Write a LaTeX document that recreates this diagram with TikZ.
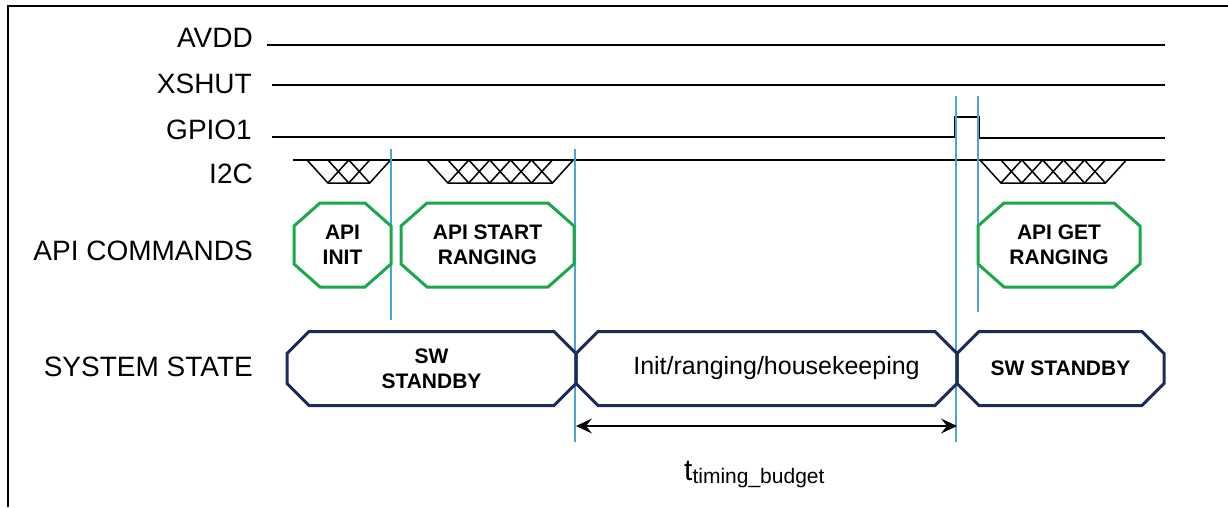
\documentclass[tikz,border=0pt]{standalone}
\usepackage{fontspec}
\setmainfont{Liberation Sans}
\usepackage{xcolor}
\usetikzlibrary{arrows.meta, positioning}
\definecolor{apigreen}{RGB}{27,168,75}
\definecolor{statenavy}{RGB}{28,43,90}
\definecolor{markblue}{RGB}{75,163,214}
\tikzstyle{siglabel} = [anchor=base east, inner sep=0pt, font=\fontsize{28}{32}\selectfont]
\tikzstyle{wire} = [line width=1.5pt, black]
\tikzstyle{marker} = [line width=1.4pt, markblue]
\tikzstyle{apicmd} = [rectangle, minimum height=84pt, inner sep=0pt, outer sep=0pt, align=center, font=\fontsize{21}{25}\selectfont\bfseries]
\tikzstyle{sysstate} = [rectangle, minimum height=74pt, inner sep=0pt, outer sep=0pt, align=center, font=\fontsize{21}{25}\selectfont\bfseries]
\tikzstyle{apiline} = [draw=apigreen, line width=3pt]
\tikzstyle{stateline} = [draw=statenavy, line width=3pt]
\tikzstyle{arrow} = [line width=1.5pt, <->, >={Stealth[length=16pt,width=15pt,inset=6pt]}]
% one I2C burst: #1 start x, #2 number of crossings
\newcommand{\busburst}[2]{%
  \draw[wire] (#1,160) -- (#1+20.9,183) -- ({#1+(#2+1)*20.9},183) -- ({#1+(#2+2)*20.9},160);
  \foreach \k in {1,...,#2} {
    \draw[wire] ({#1+\k*20.9},160) -- ({#1+(\k+1)*20.9},183);
    \draw[wire] ({#1+\k*20.9},183) -- ({#1+(\k+1)*20.9},160);
  }%
}
% octagon round a node: #1 style, #2 node, #3 corner width, #4 corner height
\newcommand{\octagon}[4]{%
  \draw[#1] ([xshift=#3]#2.north west) -- ([xshift=-#3]#2.north east) -- ([yshift=-#4]#2.north east)
    -- ([yshift=#4]#2.south east) -- ([xshift=-#3]#2.south east) -- ([xshift=#3]#2.south west)
    -- ([yshift=#4]#2.south west) -- ([yshift=-#4]#2.north west) -- cycle;
}

\begin{document}
\begin{tikzpicture}[x=1pt, y=-1pt]
   \useasboundingbox (0,0) rectangle (1228,507);
   \draw [line width=2.5pt] (8,507) -- (8,6) -- (1228,6);

   % signal names
   \node (avdd) [siglabel] at (253,47) {AVDD};
   \node (xshut) [siglabel] at (252,93) {XSHUT};
   \node (gpio) [siglabel] at (252,139) {GPIO1};
   \node (i2c) [siglabel] at (253,183) {I2C};
   \node (apiname) [siglabel] at (253,260) {API COMMANDS};
   \node (statename) [siglabel] at (253,376) {SYSTEM STATE};

   % traces
   \draw [wire] (267,45) -- (1165,45);
   \draw [wire] (272,85) -- (1165,85);
   \draw [wire] (272,137) -- (955,137) -- (955,117) -- (979,117) -- (979,138) -- (1165,138);
   \draw [wire] (293,160) -- (1165,160);
   \busburst{307}{2}
   \busburst{427}{5}
   \busburst{980}{5}

   % markers
   \draw [marker] (391,149) -- (391,320);
   \draw [marker] (575,149) -- (575,442);
   \draw [marker] (956,96) -- (956,442);
   \draw [marker] (978,96) -- (978,312);

   % API commands
   \node (init) [apicmd, minimum width=97pt] at (342.5,245) {API\\INIT};
   \node (startrng) [apicmd, minimum width=173pt, right=10pt of init] {API START\\RANGING};
   \node (getrng) [apicmd, minimum width=162pt] at (1059,245) {API GET\\RANGING};
   \octagon{apiline}{init}{26pt}{23pt}
   \octagon{apiline}{startrng}{26pt}{23pt}
   \octagon{apiline}{getrng}{26pt}{23pt}

   % system state
   \node (stby1) [sysstate, minimum width=289pt] at (431.5,368.5) {SW\\STANDBY};
   \node (busy) [sysstate, minimum width=381pt, right=0pt of stby1,
      label={[xshift=10pt, font=\fontsize{25}{30}\selectfont]center:Init/ranging/housekeeping}] {};
   \node (stby2) [sysstate, minimum width=207pt, right=0pt of busy] {SW STANDBY};
   \octagon{stateline}{stby1}{22pt}{22pt}
   \octagon{stateline}{busy}{22pt}{22pt}
   \octagon{stateline}{stby2}{22pt}{22pt}

   % timing budget
   \coordinate (tstart) at (576,426);
   \coordinate (tend) at (957,426);
   \draw [arrow] (tstart) -- (tend);
   \node (tbudget) [anchor=base west, inner sep=0pt] at (684,480) {\fontsize{30}{30}\selectfont t\raisebox{-3pt}{\fontsize{21}{21}\selectfont timing\_budget}};
\end{tikzpicture}
\end{document}
